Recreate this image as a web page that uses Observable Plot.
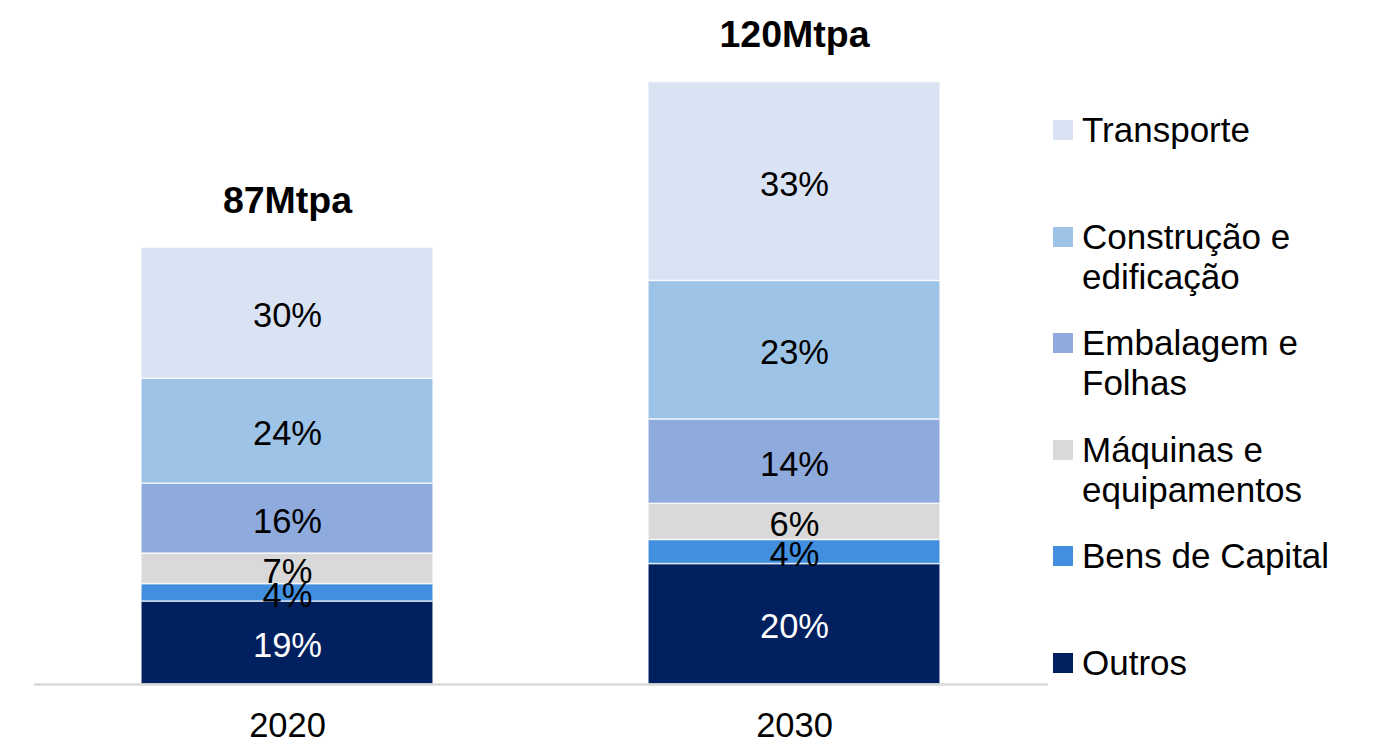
<!DOCTYPE html>
<html>
<head>
<meta charset="utf-8">
<script src="https://cdn.jsdelivr.net/npm/d3@7"></script>
<script src="https://cdn.jsdelivr.net/npm/@observablehq/plot@0.6"></script>
<style>
  html, body { margin: 0; padding: 0; background: #fff; }
  #wrap { position: relative; width: 1377px; height: 744px; font-family: "Liberation Sans", Arial, sans-serif; }
  #chart { position: absolute; left: 0; top: 0; }
  #legend { position: absolute; left: 1053px; top: 110px; }
  .item { display: flex; align-items: flex-start; height: 106.6px; }
  .swatch { width: 20px; height: 20px; margin-top: 10px; margin-right: 9px; flex: none; }
  .lbl { font-size: 35px; line-height: 40px; color: #000; white-space: pre-line; }
</style>
</head>
<body>
<div id="wrap">
  <div id="chart"></div>
  <div id="legend"></div>
</div>
<script>
// Data (bottom to top stacking order)
const years = ["2020", "2030"];
const totals = [87, 120];
const categories = ["Outros", "Bens de Capital", "Máquinas e equipamentos", "Embalagem e Folhas", "Construção e edificação", "Transporte"];
const legendLabels = ["Outros", "Bens de Capital", "Máquinas e\nequipamentos", "Embalagem e\nFolhas", "Construção e\nedificação", "Transporte"];
const colors = ["#002060", "#418FDE", "#D9D9D9", "#8FAADC", "#9DC3E6", "#DAE3F3"];
const pct2020 = [19, 4, 7, 16, 24, 30];
const pct2030 = [20, 4, 6, 14, 23, 33];

const pcts = [pct2020, pct2030];
const data = [];
years.forEach((yr, i) => {
  categories.forEach((c, j) => {
    data.push({year: yr, category: c, pct: pcts[i][j], value: pcts[i][j] * totals[i] / 100});
  });
});
const totalRows = years.map((yr, i) => ({year: yr, total: totals[i]}));

const chart = Plot.plot({
  width: 1377,
  height: 744,
  marginLeft: 34,
  marginRight: 329,
  marginTop: 0,
  marginBottom: 60,
  style: {fontFamily: "'Liberation Sans', Arial, sans-serif", color: "#000", background: "#fff"},
  x: {domain: years, paddingInner: 0.424, paddingOuter: 0.211, label: null},
  y: {domain: [0, 136.25], axis: null},
  color: {domain: categories, range: colors},
  marks: [
    Plot.barY(data, Plot.stackY({x: "year", y: "value", fill: "category", stroke: "#ffffff", strokeWidth: 1.5, strokeOpacity: 0.7})),
    Plot.ruleY([0], {stroke: "#d9d9d9", strokeWidth: 2.5}),
    Plot.text(data, Plot.stackY({x: "year", y: "value", text: d => d.category === "Outros" ? "" : d.pct + "%", fill: "#000", fontSize: 34.5, dy: 3})),
    Plot.text(data, Plot.stackY({x: "year", y: "value", text: d => d.category === "Outros" ? d.pct + "%" : "", fill: "#fff", fontSize: 34.5, dy: 3})),
    Plot.text(totalRows, {x: "year", y: "total", text: d => d.total + "Mtpa", dy: -47, fontSize: 37.5, fontWeight: "bold", fill: "#000"}),
    Plot.axisX({tickSize: 0, tickPadding: 28, fontSize: 34.5, label: null, fill: "#000"})
  ]
});
document.getElementById("chart").appendChild(chart);

// Legend (top to bottom)
const legend = document.getElementById("legend");
for (let j = categories.length - 1; j >= 0; j--) {
  const item = document.createElement("div");
  item.className = "item";
  const sw = document.createElement("div");
  sw.className = "swatch";
  sw.style.background = colors[j];
  const lb = document.createElement("div");
  lb.className = "lbl";
  lb.textContent = legendLabels[j];
  item.appendChild(sw);
  item.appendChild(lb);
  legend.appendChild(item);
}
</script>
</body>
</html>
